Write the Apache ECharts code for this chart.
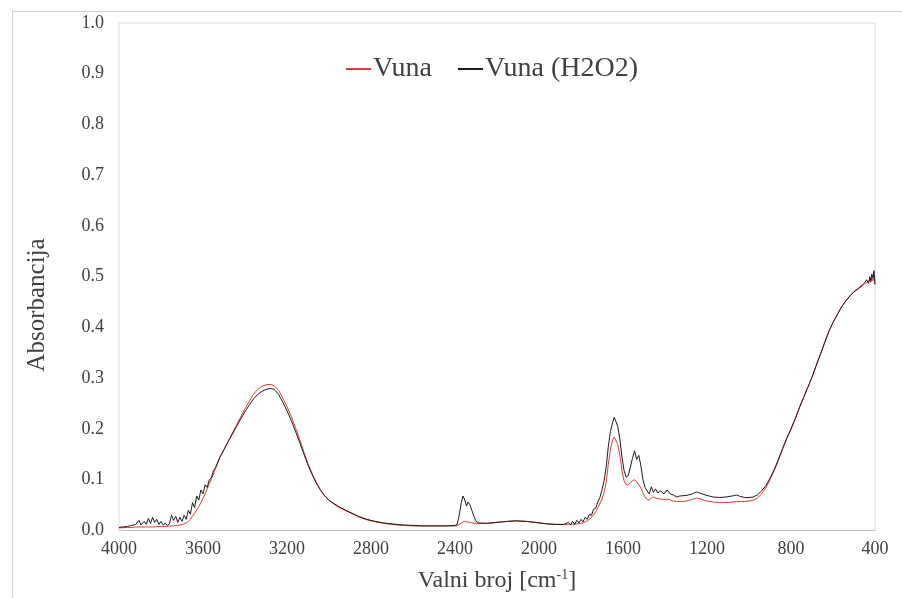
<!DOCTYPE html>
<html><head><meta charset="utf-8">
<script src="https://cdn.jsdelivr.net/npm/echarts@6/dist/echarts.min.js"></script>
<style>html,body{margin:0;padding:0;background:#fff}#c{width:902px;height:598px}</style>
</head><body><div id="c"></div>
<script>
const wavenumbers = [4000,3960,3940,3920,3905,3895,3880,3870,3860,3850,3840,3830,3820,3810,3800,3790,3780,3770,3760,3750,3740,3730,3720,3710,3700,3690,3680,3670,3660,3650,3640,3630,3620,3610,3600,3590,3580,3570,3560,3550,3540,3520,3500,3480,3460,3440,3420,3400,3380,3360,3340,3320,3300,3280,3260,3240,3220,3200,3180,3160,3140,3120,3100,3080,3060,3040,3020,3000,2980,2960,2940,2920,2900,2880,2860,2820,2780,2740,2700,2650,2600,2550,2500,2450,2400,2390,2380,2370,2362,2355,2345,2338,2330,2320,2310,2300,2288,2250,2200,2150,2110,2060,2000,1960,1920,1880,1860,1850,1840,1830,1820,1810,1800,1790,1780,1770,1760,1750,1740,1730,1720,1710,1700,1690,1680,1670,1660,1650,1642,1635,1625,1615,1605,1595,1585,1575,1565,1555,1545,1535,1525,1515,1505,1495,1485,1475,1465,1455,1445,1435,1420,1405,1390,1375,1360,1345,1330,1300,1270,1250,1230,1200,1170,1140,1110,1080,1060,1040,1020,1000,980,960,940,920,900,880,860,840,820,800,780,760,740,720,700,680,660,640,620,600,580,560,540,520,500,480,460,450,440,430,425,420,415,410,405,402,400];
const vuna = [0.005,0.006,0.006,0.007,0.007,0.007,0.007,0.007,0.007,0.007,0.007,0.007,0.008,0.008,0.008,0.008,0.008,0.008,0.009,0.009,0.009,0.010,0.010,0.011,0.012,0.013,0.015,0.018,0.022,0.028,0.034,0.040,0.047,0.055,0.063,0.072,0.082,0.092,0.102,0.112,0.123,0.144,0.160,0.176,0.192,0.208,0.224,0.240,0.254,0.268,0.278,0.284,0.287,0.288,0.285,0.276,0.261,0.244,0.225,0.203,0.180,0.155,0.132,0.112,0.094,0.080,0.068,0.059,0.053,0.047,0.043,0.039,0.035,0.031,0.027,0.021,0.017,0.014,0.012,0.010,0.009,0.009,0.009,0.009,0.009,0.010,0.012,0.015,0.017,0.018,0.017,0.017,0.016,0.015,0.014,0.014,0.014,0.014,0.016,0.018,0.019,0.018,0.015,0.013,0.012,0.012,0.012,0.012,0.012,0.013,0.013,0.014,0.014,0.015,0.017,0.019,0.022,0.026,0.031,0.037,0.045,0.053,0.062,0.075,0.095,0.130,0.160,0.178,0.184,0.182,0.170,0.148,0.118,0.098,0.090,0.090,0.094,0.098,0.100,0.096,0.090,0.084,0.074,0.066,0.061,0.060,0.064,0.066,0.064,0.063,0.062,0.061,0.062,0.060,0.058,0.057,0.057,0.058,0.061,0.064,0.062,0.058,0.056,0.055,0.055,0.056,0.057,0.057,0.057,0.058,0.060,0.064,0.072,0.084,0.100,0.118,0.138,0.160,0.181,0.200,0.220,0.242,0.262,0.282,0.302,0.325,0.347,0.370,0.392,0.410,0.425,0.440,0.452,0.462,0.470,0.476,0.482,0.486,0.488,0.490,0.494,0.489,0.498,0.492,0.502,0.490,0.484];
const vunaH2O2 = [0.006,0.008,0.010,0.012,0.020,0.011,0.018,0.012,0.024,0.014,0.026,0.016,0.022,0.012,0.018,0.011,0.014,0.010,0.013,0.030,0.020,0.028,0.016,0.026,0.018,0.030,0.022,0.040,0.032,0.055,0.045,0.068,0.060,0.080,0.072,0.090,0.085,0.100,0.104,0.118,0.124,0.144,0.159,0.175,0.190,0.205,0.220,0.234,0.247,0.259,0.268,0.274,0.278,0.280,0.278,0.268,0.253,0.236,0.217,0.196,0.174,0.151,0.129,0.110,0.093,0.079,0.068,0.060,0.054,0.049,0.044,0.040,0.036,0.032,0.028,0.022,0.018,0.015,0.013,0.011,0.010,0.009,0.009,0.009,0.010,0.012,0.030,0.055,0.068,0.062,0.048,0.056,0.052,0.040,0.028,0.018,0.015,0.014,0.016,0.018,0.019,0.018,0.015,0.013,0.012,0.012,0.016,0.011,0.018,0.012,0.020,0.015,0.022,0.017,0.026,0.022,0.032,0.030,0.042,0.044,0.056,0.065,0.080,0.098,0.125,0.165,0.195,0.212,0.223,0.216,0.205,0.180,0.145,0.118,0.105,0.108,0.125,0.142,0.157,0.140,0.148,0.128,0.100,0.085,0.078,0.072,0.086,0.075,0.082,0.074,0.078,0.072,0.080,0.072,0.070,0.066,0.068,0.069,0.072,0.076,0.073,0.069,0.066,0.065,0.066,0.068,0.070,0.067,0.065,0.065,0.066,0.070,0.078,0.088,0.103,0.120,0.140,0.162,0.182,0.200,0.220,0.242,0.262,0.282,0.302,0.325,0.347,0.370,0.392,0.410,0.425,0.440,0.452,0.462,0.471,0.477,0.484,0.488,0.494,0.487,0.500,0.492,0.505,0.498,0.512,0.498,0.486];
const xTicks = {min: 400, max: 4000, step: 400};
const yTicks = {min: 0, max: 1, step: 0.1};
const seriesNames = ['Vuna', 'Vuna (H2O2)'];

const chart = echarts.init(document.getElementById('c'), null, {renderer: 'canvas'});
const font = '"Liberation Serif", "Times New Roman", serif';
const txt = '#404040';
chart.setOption({
  animation: false,
  backgroundColor: '#fff',
  grid: {left: 119, right: 27, top: 23, bottom: 66, show: true, borderColor: '#d9d9d9', borderWidth: 1},
  legend: {
    top: 50, left: 341, itemWidth: 25, itemHeight: 2, itemGap: 26,
    icon: 'rect',
    textStyle: {fontFamily: font, fontSize: 28, color: txt, padding: [0,0,0,-3]},
    data: seriesNames
  },
  xAxis: {
    type: 'value', inverse: true, min: xTicks.min, max: xTicks.max, interval: xTicks.step,
    name: 'Valni broj [cm{sup|-1}]', nameLocation: 'middle', nameGap: 38,
    nameTextStyle: {fontFamily: font, fontSize: 24, color: txt,
      rich: {sup: {fontFamily: font, fontSize: 14, color: txt, verticalAlign: 'top', padding: [0,0,11,0]}}},
    axisLine: {show: true, lineStyle: {color: '#bfbfbf', width: 1}},
    axisTick: {show: false},
    splitLine: {show: false},
    axisLabel: {fontFamily: font, fontSize: 18, color: txt, margin: 10, formatter: v => String(v)}
  },
  yAxis: {
    type: 'value', min: yTicks.min, max: yTicks.max, interval: yTicks.step,
    axisLine: {show: false}, axisTick: {show: false}, splitLine: {show: false},
    axisLabel: {fontFamily: font, fontSize: 18, color: txt, margin: 15, formatter: v => v.toFixed(1)}
  },
  graphic: [
    {type: 'line', shape: {x1: 12, y1: 11.5, x2: 902, y2: 11.5}, style: {stroke: '#cfcfcf', lineWidth: 1}},
    {type: 'line', shape: {x1: 12.5, y1: 11, x2: 12.5, y2: 598}, style: {stroke: '#cfcfcf', lineWidth: 1}},
    {type: 'text', x: 37, y: 305, rotation: Math.PI / 2,
     style: {text: 'Absorbancija', fontFamily: font, fontSize: 25, fill: txt, textAlign: 'center', textVerticalAlign: 'middle'}}
  ],
  series: [
    {name: seriesNames[0], type: 'line', showSymbol: false, symbol: 'none', smooth: false,
     lineStyle: {color: '#e03a3a', width: 1}, itemStyle: {color: '#e03a3a'},
     data: wavenumbers.map((w, i) => [w, vuna[i]])},
    {name: seriesNames[1], type: 'line', showSymbol: false, symbol: 'none', smooth: false,
     lineStyle: {color: '#1a1a1a', width: 1}, itemStyle: {color: '#1a1a1a'},
     data: wavenumbers.map((w, i) => [w, vunaH2O2[i]])}
  ]
});
</script></body></html>
